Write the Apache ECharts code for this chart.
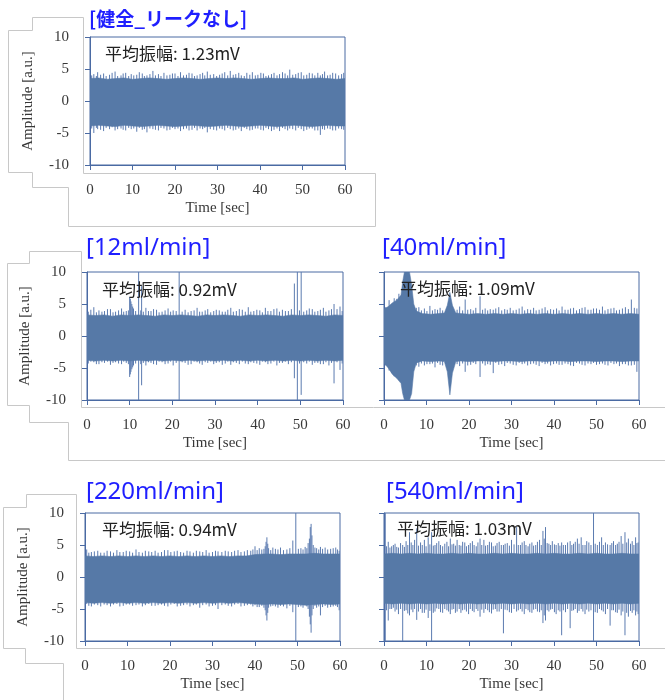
<!DOCTYPE html>
<html><head><meta charset="utf-8">
<script src="https://cdn.jsdelivr.net/npm/echarts@6.0.0/dist/echarts.min.js"></script>
<style>html,body{margin:0;padding:0;background:#fff}#c{width:665px;height:700px}</style>
</head><body><div id="c"></div><script>
// ---------- data ----------
const titles = ['[健全_リークなし]', '[12ml/min]', '[40ml/min]', '[220ml/min]', '[540ml/min]'];
const meanAmp = ['1.23mV', '0.92mV', '1.09mV', '0.94mV', '1.03mV'];
const xTicks = [0, 10, 20, 30, 40, 50, 60];
const yTicks = [-10, -5, 0, 5, 10];

// envelope of the dense signal: [time s, upper, lower]
const env1 = [[0,3.5,-3.9],[2,3.6,-3.8],[4,3.4,-3.9],[6,3.5,-4.0],[8,3.6,-3.8],[10,3.4,-3.9],[12,3.5,-4.0],[14,3.6,-3.9],[16,3.5,-3.8],[18,3.4,-3.9],[20,3.5,-4.0],[22,3.6,-3.9],[24,3.5,-3.8],[26,3.4,-3.9],[28,3.5,-4.0],[30,3.6,-3.9],[32,3.5,-3.8],[34,3.6,-3.9],[36,3.5,-4.0],[38,3.4,-3.9],[40,3.5,-3.8],[42,3.6,-3.9],[44,3.5,-4.0],[46,3.5,-3.9],[48,3.6,-3.8],[50,3.4,-3.9],[52,3.5,-4.0],[54,3.6,-3.9],[56,3.5,-3.8],[58,3.4,-3.9],[60,3.5,-3.9]];
const env2 = [[0,3.3,-3.8],[2,3.2,-3.9],[4,3.3,-3.8],[6,3.1,-3.9],[8,3.3,-3.8],[10,3.2,-3.9],[12,3.3,-3.8],[14,3.2,-3.9],[16,3.1,-3.8],[18,3.3,-3.9],[20,3.2,-3.8],[22,3.3,-3.9],[24,3.2,-3.8],[26,3.1,-3.9],[28,3.3,-3.8],[30,3.2,-3.9],[32,3.3,-3.8],[34,3.2,-3.9],[36,3.1,-3.8],[38,3.3,-3.9],[40,3.2,-3.8],[42,3.3,-3.9],[44,3.2,-3.8],[46,3.1,-3.9],[48,3.3,-3.8],[50,3.2,-3.9],[52,3.3,-3.8],[54,3.2,-3.9],[56,3.1,-3.8],[58,3.3,-3.9],[60,3.2,-3.8]];
const env3 = [[0,4.2,-4.2],[1,4.6,-5.0],[2,5.2,-6.0],[3,5.6,-6.6],[4,6.4,-7.4],[4.4,8.5,-9.0],[4.8,10,-10],[6.0,10,-10],[6.5,8.0,-9.0],[7.0,5.0,-5.6],[7.6,3.9,-4.2],[9,3.5,-3.9],[11,3.4,-4.0],[13,3.5,-3.9],[14.2,3.6,-4.0],[14.9,4.8,-5.6],[15.5,6.8,-9.2],[16.1,4.8,-5.8],[16.9,3.6,-4.0],[18,3.5,-3.9],[20,3.4,-4.0],[22,3.5,-3.9],[24,3.4,-3.9],[26,3.5,-4.0],[28,3.4,-3.9],[30,3.5,-3.9],[32,3.4,-4.0],[34,3.5,-3.9],[36,3.4,-3.9],[38,3.5,-4.0],[40,3.4,-3.9],[42,3.5,-3.9],[44,3.4,-4.0],[46,3.5,-3.9],[48,3.4,-3.9],[50,3.5,-4.0],[52,3.4,-3.9],[54,3.5,-3.9],[56,3.4,-4.0],[58,3.5,-3.9],[60,3.4,-3.9]];
const env4 = [[0,3.3,-4.0],[2,3.2,-4.1],[4,3.3,-4.0],[6,3.2,-4.1],[8,3.3,-4.0],[10,3.2,-4.1],[12,3.3,-4.0],[14,3.2,-4.1],[16,3.3,-4.0],[18,3.2,-4.1],[20,3.3,-4.0],[22,3.2,-4.1],[24,3.3,-4.0],[26,3.2,-4.1],[28,3.3,-4.0],[30,3.2,-4.1],[32,3.3,-4.0],[34,3.2,-4.1],[36,3.3,-4.0],[38,3.3,-4.1],[40,3.5,-4.2],[42,3.6,-4.3],[44,3.6,-4.2],[46,3.5,-4.3],[48,3.6,-4.2],[50,3.6,-4.3],[52,3.6,-4.4],[54,3.7,-4.3],[56,3.6,-4.2],[58,3.6,-4.3],[60,3.6,-4.2]];
const env5 = [[0,3.6,-4.1],[2,3.7,-4.2],[4,3.6,-4.1],[6,3.7,-4.2],[8,3.6,-4.1],[10,3.7,-4.2],[12,3.6,-4.1],[14,3.6,-4.2],[16,3.7,-4.1],[18,3.6,-4.2],[20,3.7,-4.1],[22,3.6,-4.2],[24,3.6,-4.1],[26,3.7,-4.2],[28,3.6,-4.1],[30,3.7,-4.2],[32,3.6,-4.1],[34,3.6,-4.2],[36,3.7,-4.1],[38,3.6,-4.2],[40,3.7,-4.1],[42,3.6,-4.2],[44,3.6,-4.1],[46,3.7,-4.2],[48,3.6,-4.1],[50,3.7,-4.2],[52,3.6,-4.1],[54,3.6,-4.2],[56,3.7,-4.1],[58,3.6,-4.2],[60,3.6,-4.1]];

// individual spikes: [time s, top, bottom]
const spk1 = [[0.4,4.0,-4.3],[0.9,4.2,-5.0],[1.5,3.9,-4.2],[1.8,4.5,-4.4],[2.5,4.1,-4.5],[3.2,4.3,-4.7],[3.8,3.9,-4.2],[4.6,4.1,-4.4],[5.2,4.4,-4.1],[5.9,4.6,-4.6],[6.5,3.9,-4.4],[7.3,4.0,-4.3],[7.8,4.3,-4.5],[8.4,4.4,-4.6],[9.1,3.9,-4.2],[9.7,4.2,-4.4],[10.3,4.0,-4.3],[11.0,4.1,-4.8],[11.6,4.5,-4.2],[12.3,4.3,-4.5],[12.8,3.9,-4.4],[13.4,4.0,-4.9],[14.1,4.2,-4.3],[14.8,4.7,-4.4],[15.4,4.0,-4.5],[16.1,4.2,-4.6],[16.7,3.9,-4.2],[17.4,4.4,-4.3],[18.1,4.0,-4.6],[18.8,4.1,-4.5],[19.4,4.3,-4.2],[20.0,4.3,-4.4],[20.7,3.9,-4.3],[21.3,4.5,-4.7],[22.0,4.0,-4.4],[22.7,4.1,-4.3],[23.3,4.4,-4.6],[24.0,4.3,-4.5],[24.6,3.9,-4.2],[25.2,4.0,-4.6],[25.9,4.2,-4.3],[26.5,4.4,-4.4],[27.0,4.0,-4.2],[27.6,4.6,-4.9],[28.3,4.1,-4.4],[29.1,4.2,-4.5],[29.8,3.9,-4.6],[30.5,4.1,-4.3],[31.1,4.3,-4.4],[31.7,4.5,-4.6],[32.4,4.0,-4.2],[33.0,4.7,-4.4],[33.7,4.1,-4.6],[34.3,4.2,-4.5],[35.0,4.4,-4.3],[35.6,4.0,-4.7],[36.3,3.9,-4.2],[36.9,4.4,-4.4],[37.6,4.1,-4.6],[38.2,4.5,-4.5],[38.9,4.0,-4.3],[39.5,4.1,-4.3],[40.2,4.4,-4.5],[40.8,4.3,-4.6],[41.4,3.9,-4.2],[42.0,4.0,-4.4],[42.7,4.2,-4.7],[43.3,4.4,-4.5],[44.0,4.0,-4.3],[44.6,4.2,-4.7],[45.3,4.5,-4.2],[45.9,4.3,-4.4],[46.5,4.0,-4.6],[47.0,4.9,-4.3],[47.7,4.1,-4.4],[48.4,4.2,-4.6],[49.0,4.4,-4.2],[49.7,4.5,-4.4],[50.3,4.0,-4.7],[51.0,4.1,-4.5],[51.6,4.4,-4.3],[52.3,4.3,-4.3],[52.9,4.0,-4.6],[53.6,4.4,-4.6],[54.2,4.0,-5.3],[54.7,4.2,-4.4],[55.2,4.6,-4.5],[55.9,4.0,-4.3],[56.5,4.1,-4.4],[57.1,4.4,-4.6],[57.8,4.3,-4.6],[58.5,4.0,-4.3],[59.2,4.2,-4.4],[59.7,4.4,-4.5]];
const spk2 = [[0.3,3.8,-4.3],[0.9,4.1,-4.0],[1.6,4.5,-4.1],[2.2,3.7,-4.4],[2.8,4.0,-4.4],[3.5,3.8,-4.1],[4.1,3.9,-4.2],[4.8,4.2,-4.0],[5.5,4.2,-4.5],[6.1,3.7,-4.2],[6.7,3.8,-4.1],[7.4,4.0,-4.3],[8.1,4.3,-4.4],[8.6,3.8,-4.0],[9.2,3.9,-4.2],[9.7,4.0,-4.4],[10.0,6.1,-6.4],[10.15,5.8,-6.0],[10.3,5.4,-5.6],[10.5,5.0,-5.2],[10.7,4.6,-4.9],[10.9,4.3,-4.6],[11.4,3.9,-4.3],[12.1,10,-10],[12.6,4.0,-4.4],[12.8,7.8,-7.7],[13.2,3.8,-4.2],[13.8,4.4,-4.6],[14.4,3.9,-4.1],[15.0,3.9,-4.2],[15.6,4.2,-4.4],[16.3,4.1,-4.5],[16.9,3.7,-4.0],[17.6,3.8,-4.1],[18.3,4.0,-4.4],[19.0,4.3,-4.3],[19.6,3.8,-4.0],[20.2,4.0,-4.6],[20.9,3.9,-4.2],[21.6,10,-10],[22.3,3.8,-4.1],[23.0,4.1,-4.2],[23.7,3.7,-4.5],[24.4,3.9,-4.4],[25.1,4.0,-4.0],[25.8,4.4,-4.1],[26.4,3.8,-4.3],[27.0,3.8,-4.5],[27.7,4.0,-4.1],[28.3,4.2,-4.2],[29.0,3.7,-4.0],[29.7,3.9,-4.4],[30.3,4.1,-4.2],[31.0,4.0,-4.1],[31.7,3.8,-4.5],[32.4,3.8,-4.3],[33.0,4.1,-4.0],[33.7,4.4,-4.5],[34.3,3.8,-4.1],[35.0,3.9,-4.2],[35.7,4.2,-4.4],[36.4,4.1,-4.0],[37.1,3.8,-4.3],[37.8,4.5,-4.4],[38.4,3.8,-4.1],[39.1,3.9,-4.2],[39.8,4.1,-4.3],[40.5,4.0,-4.5],[41.1,3.7,-4.0],[41.8,4.4,-4.1],[42.4,3.9,-4.4],[43.1,3.9,-4.3],[43.8,4.2,-4.0],[44.5,4.3,-4.6],[45.1,3.8,-4.2],[45.8,4.1,-4.2],[46.5,3.9,-4.0],[47.2,3.9,-4.4],[47.9,4.2,-4.1],[48.6,8.2,-6.6],[49.3,10,-10],[49.8,4.0,-4.3],[50.2,10,-9.2],[50.8,3.8,-4.1],[51.5,4.0,-4.3],[52.1,4.3,-4.0],[52.8,4.2,-4.5],[53.4,3.8,-4.2],[54.1,3.9,-4.2],[54.7,4.1,-4.4],[55.4,4.4,-4.4],[56.0,3.8,-4.1],[56.7,4.0,-4.6],[57.3,4.2,-4.2],[57.9,5.0,-7.4],[58.6,4.2,-4.1],[59.3,4.6,-5.3],[59.8,3.9,-4.3]];
const spk3 = [[0.4,4.5,-4.6],[1.2,5.6,-5.4],[1.8,5.0,-5.8],[2.4,5.9,-6.3],[3.0,5.8,-6.5],[3.5,6.6,-6.9],[7.6,4.4,-4.6],[8.2,4.5,-4.8],[8.8,4.0,-4.3],[9.5,4.3,-4.6],[10.1,3.9,-4.4],[10.8,4.7,-4.4],[11.4,4.0,-4.3],[12.0,4.2,-4.9],[12.6,4.1,-4.2],[13.2,4.4,-4.5],[13.8,4.0,-4.6],[17.2,4.1,-4.4],[17.8,4.6,-4.7],[18.5,4.0,-4.3],[19.1,5.7,-5.6],[19.7,4.1,-4.6],[20.4,4.2,-4.5],[21.0,4.0,-4.2],[21.6,4.4,-4.4],[22.6,6.2,-6.4],[23.2,4.1,-4.3],[23.8,4.3,-4.6],[24.4,4.0,-4.4],[25.0,4.2,-4.5],[25.7,4.1,-5.8],[26.3,4.3,-4.2],[27.0,4.5,-4.5],[27.7,4.0,-4.4],[28.4,4.2,-4.7],[29.0,4.1,-4.2],[29.7,4.4,-4.3],[30.4,4.0,-4.5],[31.1,4.1,-4.6],[31.8,4.3,-4.2],[32.5,4.6,-4.4],[33.1,4.0,-4.3],[33.8,4.2,-4.6],[34.5,4.1,-4.4],[35.2,4.4,-4.3],[35.8,4.0,-4.5],[36.5,4.1,-4.7],[37.2,4.3,-4.2],[37.9,4.5,-4.4],[38.5,4.0,-4.3],[39.2,4.2,-4.6],[39.9,4.1,-4.4],[40.6,4.3,-4.3],[41.2,4.0,-4.5],[41.9,4.6,-4.5],[42.6,4.1,-4.3],[43.3,4.1,-4.4],[43.9,4.3,-4.6],[44.6,4.4,-4.7],[45.3,4.0,-4.2],[46.0,4.2,-4.3],[46.6,4.4,-4.5],[47.3,4.5,-4.6],[48.0,4.1,-4.3],[48.7,4.1,-4.4],[49.3,4.3,-4.2],[50.0,4.3,-4.5],[50.7,4.1,-4.4],[51.4,4.6,-4.3],[52.0,4.0,-4.5],[52.7,4.2,-4.6],[53.4,4.3,-4.2],[54.1,4.4,-4.4],[54.7,4.0,-4.3],[55.4,4.1,-4.7],[56.1,4.3,-4.4],[56.8,4.5,-4.4],[57.5,4.2,-4.6],[58.2,5.7,-4.6],[58.9,4.4,-4.5],[59.5,4.3,-5.6]];
const spk4 = [[0.4,4.3,-4.2],[0.9,3.8,-4.5],[1.5,3.9,-4.6],[2.2,4.0,-4.3],[3.0,4.1,-4.4],[3.7,3.8,-4.6],[4.5,3.8,-4.3],[5.2,4.1,-4.4],[6.0,4.0,-4.6],[6.7,3.8,-4.3],[7.5,4.2,-4.2],[8.2,3.9,-4.6],[9.0,3.9,-4.5],[9.7,4.1,-4.3],[10.5,4.0,-4.3],[11.2,3.8,-4.5],[12.0,4.3,-4.4],[12.7,3.9,-4.3],[13.5,3.8,-4.6],[14.2,4.1,-4.4],[15.0,4.0,-4.2],[15.7,3.9,-4.5],[16.5,4.1,-4.5],[17.2,3.8,-4.4],[18.0,3.9,-4.3],[18.7,4.2,-4.5],[19.5,4.2,-4.6],[20.2,3.9,-4.3],[21.0,4.0,-4.2],[21.7,4.1,-4.6],[22.5,3.9,-4.5],[23.2,3.8,-4.4],[24.0,4.1,-4.3],[24.7,4.0,-4.6],[25.5,3.8,-4.4],[26.2,4.1,-4.3],[27.0,4.0,-4.8],[27.7,3.9,-4.4],[28.5,4.2,-4.3],[29.2,3.8,-4.6],[30.0,3.9,-4.5],[30.7,4.1,-4.4],[31.3,4.0,-5.0],[32.2,3.9,-4.4],[33.0,4.1,-4.3],[33.7,4.0,-4.5],[34.5,3.9,-4.6],[35.2,4.1,-4.3],[36.0,4.2,-4.2],[36.7,3.9,-4.6],[37.5,4.0,-4.5],[38.2,4.2,-4.4],[39.0,4.1,-4.3],[39.5,4.3,-4.6],[40.0,4.8,-4.4],[40.5,4.2,-4.7],[41.0,4.5,-4.7],[41.6,4.3,-4.5],[42.1,4.4,-4.8],[42.4,4.8,-5.2],[42.6,5.5,-6.0],[42.8,6.2,-6.8],[43.0,5.2,-5.6],[43.2,4.5,-4.8],[43.7,4.2,-4.6],[44.2,4.6,-4.5],[44.8,4.4,-4.6],[45.4,4.3,-4.8],[46.0,4.6,-4.5],[46.7,4.2,-4.6],[47.5,4.3,-4.9],[48.2,4.5,-4.5],[48.9,5.7,-5.5],[49.6,10,-10],[50.2,4.4,-4.7],[50.8,4.5,-4.6],[51.3,4.3,-4.8],[51.8,4.7,-4.4],[52.2,4.5,-4.6],[52.5,5.3,-5.0],[52.8,6.0,-6.2],[53.0,7.8,-7.4],[53.2,8.3,-8.7],[53.4,6.5,-6.0],[53.7,5.0,-5.0],[54.1,4.6,-4.5],[54.5,4.5,-4.8],[55.0,4.3,-4.6],[55.4,4.7,-6.0],[55.9,4.4,-4.7],[56.5,4.6,-4.5],[57.1,4.3,-4.8],[57.8,4.4,-4.7],[58.4,4.5,-4.6],[59.0,4.6,-4.5],[59.4,4.3,-4.7],[59.8,4.1,-5.2]];
const spk5 = [[0.3,10,-10],[0.6,4.8,-5.2],[1.0,5.5,-6.8],[1.4,4.6,-5.0],[1.8,4.8,-5.0],[2.2,5.0,-4.8],[2.6,5.2,-5.4],[3.0,4.7,-5.1],[3.4,4.6,-5.8],[3.9,5.3,-5.0],[4.4,5.0,-10],[4.8,4.7,-5.3],[5.2,5.6,-5.2],[5.6,5.0,-5.7],[6.0,7.0,-6.0],[6.4,5.4,-5.1],[6.8,5.0,-5.5],[7.2,5.8,-5.0],[7.7,7.6,-6.7],[8.1,4.9,-5.4],[8.6,5.4,-5.0],[9.0,5.0,-5.6],[9.5,5.8,-5.6],[9.9,4.8,-5.1],[10.4,6.2,-6.4],[10.8,5.1,-5.3],[11.2,7.0,-10],[11.6,4.9,-5.6],[12.0,5.0,-5.4],[12.4,5.3,-4.9],[12.9,5.6,-5.0],[13.3,5.0,-5.5],[13.8,4.8,-5.6],[14.3,5.2,-5.0],[14.8,5.5,-5.2],[15.2,4.8,-5.4],[15.6,6.0,-5.8],[16.0,5.1,-5.1],[16.4,5.2,-5.0],[16.8,4.9,-5.6],[17.2,5.8,-5.4],[17.7,5.0,-5.0],[18.1,4.9,-5.6],[18.5,5.5,-5.2],[19.0,5.4,-5.1],[19.4,4.8,-5.4],[19.9,5.0,-5.8],[20.3,5.3,-5.0],[20.8,5.6,-5.3],[21.2,5.0,-5.5],[21.7,4.8,-5.0],[22.1,5.4,-5.3],[22.6,6.0,-6.2],[23.0,5.0,-5.1],[23.5,5.8,-5.6],[23.9,4.9,-5.0],[24.4,5.0,-5.2],[24.8,5.5,-5.5],[25.3,5.4,-5.7],[25.7,4.8,-5.1],[26.2,4.9,-5.0],[26.6,5.3,-5.4],[27.1,5.5,-5.4],[27.6,5.0,-5.0],[28.1,5.0,-8.8],[28.5,5.2,-5.1],[29.0,5.3,-5.2],[29.5,4.9,-5.5],[30.0,5.8,-5.6],[30.6,5.1,-5.0],[31.2,7.8,-5.4],[31.6,5.0,-5.2],[32.1,5.0,-5.0],[32.5,5.4,-5.4],[33.0,5.6,-5.8],[33.4,5.0,-5.0],[33.9,4.8,-5.2],[34.3,5.2,-5.5],[34.8,5.4,-5.6],[35.2,4.9,-5.1],[35.7,5.0,-5.0],[36.1,5.5,-5.4],[36.6,5.8,-5.5],[37.0,5.0,-5.2],[37.4,7.2,-7.2],[37.7,6.0,-6.0],[38.0,7.8,-6.8],[38.4,5.3,-5.2],[38.8,5.2,-5.4],[39.2,5.0,-5.1],[39.6,5.6,-5.0],[40.1,5.1,-5.5],[40.5,5.0,-5.8],[41.0,5.3,-5.2],[41.4,4.9,-5.4],[41.8,5.4,-9.1],[42.2,5.0,-5.2],[42.7,5.0,-5.5],[43.2,5.4,-5.0],[43.8,5.6,-8.0],[44.2,5.0,-5.3],[44.6,5.2,-5.2],[45.0,5.5,-5.0],[45.5,6.0,-5.6],[45.9,5.2,-5.3],[46.4,6.2,-5.0],[46.8,5.0,-5.4],[47.3,5.0,-5.8],[47.7,5.6,-5.1],[48.2,5.4,-5.4],[48.7,5.0,-5.2],[49.3,10,-10],[49.7,5.2,-5.5],[50.2,5.0,-5.6],[50.7,5.5,-5.0],[51.2,6.2,-5.2],[51.6,5.0,-5.4],[52.1,5.4,-5.8],[52.6,5.1,-5.0],[53.2,5.0,-7.6],[53.6,5.3,-5.2],[54.0,5.6,-5.2],[54.5,5.0,-5.5],[54.9,5.2,-5.6],[55.3,5.5,-5.1],[55.8,6.4,-6.0],[56.2,5.2,-5.4],[56.7,7.0,-9.1],[57.1,5.4,-5.6],[57.5,6.0,-6.2],[58.0,5.2,-5.3],[58.4,5.6,-5.6],[58.8,5.0,-5.2],[59.2,6.2,-6.0],[59.5,5.3,-5.4],[59.8,5.4,-5.8]];

const envs = [env1, env2, env3, env4, env5];
const spks = [spk1, spk2, spk3, spk4, spk5];

// ---------- layout / style ----------
const layout = [
  {left: 90,  top: 37,  width: 255, height: 128, yLabels: true,  tx: 89,  ty: 19,  ax: 105, ay: 54},
  {left: 87,  top: 272, width: 256, height: 128, yLabels: true,  tx: 86,  ty: 248, ax: 102, ay: 290},
  {left: 384, top: 272, width: 255, height: 128, yLabels: false, tx: 382, ty: 248, ax: 400, ay: 289},
  {left: 85,  top: 513, width: 255, height: 128, yLabels: true,  tx: 86,  ty: 492, ax: 102, ay: 530},
  {left: 384, top: 513, width: 255, height: 128, yLabels: false, tx: 386, ty: 492, ax: 397, ay: 529}
];
const BLUE_AX = '#4a6aa3';
const BAND = '#5679a7';
const NEEDLE = '#5b7bb0';
const LABEL = '#383838';
const SERIF = 'Liberation Serif';
const GRAY = '#c8c8c8';

const chart = echarts.init(document.getElementById('c'), null, {renderer: 'canvas'});

const grids = [], xAxes = [], yAxes = [], series = [];
layout.forEach((L, i) => {
  grids.push({left: L.left, top: L.top, width: L.width, height: L.height, show: true,
    borderColor: BLUE_AX, borderWidth: 1, backgroundColor: 'transparent'});
  xAxes.push({type: 'value', gridIndex: i, min: xTicks[0], max: xTicks[xTicks.length - 1], interval: 10,
    axisLine: {show: true, onZero: false, lineStyle: {color: BLUE_AX, width: 1}},
    axisTick: {show: true, inside: false, length: 5, lineStyle: {color: BLUE_AX}},
    splitLine: {show: false},
    axisLabel: {show: true, margin: 18, color: LABEL, fontFamily: SERIF, fontSize: 15},
    name: 'Time [sec]', nameLocation: 'middle', nameGap: 36,
    nameTextStyle: {color: LABEL, fontFamily: SERIF, fontSize: 15}});
  yAxes.push({type: 'value', gridIndex: i, min: yTicks[0], max: yTicks[yTicks.length - 1], interval: 5,
    axisLine: {show: true, onZero: false, lineStyle: {color: BLUE_AX, width: 1}},
    axisTick: {show: true, inside: false, length: 5, lineStyle: {color: BLUE_AX}},
    splitLine: {show: false},
    axisLabel: {show: L.yLabels, margin: 21, color: LABEL, fontFamily: SERIF, fontSize: 15},
    name: L.yLabels ? 'Amplitude [a.u.]' : '', nameLocation: 'middle', nameGap: 54,
    nameTextStyle: {color: LABEL, fontFamily: SERIF, fontSize: 15}});
  const env = envs[i];
  series.push({type: 'custom', xAxisIndex: i, yAxisIndex: i, data: [[0, 0]], clip: true, silent: true, z: 3,
    renderItem: (p, api) => {
      const up = env.map(r => api.coord([r[0], r[1]]));
      const dn = env.slice().reverse().map(r => api.coord([r[0], r[2]]));
      return {type: 'polygon', shape: {points: up.concat(dn)},
        style: {fill: BAND, stroke: 'rgba(86,121,167,0.55)', lineWidth: 1}};
    }});
  series.push({type: 'custom', xAxisIndex: i, yAxisIndex: i, data: spks[i], encode: {x: 0, y: [1, 2]},
    clip: true, silent: true, z: 2,
    renderItem: (p, api) => {
      const a = api.coord([api.value(0), api.value(1)]);
      const b = api.coord([api.value(0), api.value(2)]);
      return {type: 'line', shape: {x1: a[0], y1: a[1], x2: b[0], y2: b[1]},
        style: {stroke: NEEDLE, lineWidth: 1}};
    }});
});

const outline = pts => ({type: 'polyline', z: 0, silent: true,
  shape: {points: pts.map(p => [p[0] + 0.5, p[1] + 0.5])},
  style: {stroke: GRAY, fill: null, lineWidth: 1}});

const graphics = [
  outline([[32,17],[83,17],[83,173],[375,173],[375,226],[68,226],[68,187],[32,187],[32,172],[8,172],[8,30],[32,30],[32,17]]),
  outline([[29,251],[81,251],[81,407],[665,407]]),
  outline([[29,251],[29,263],[7,263],[7,405],[29,405],[29,422],[68,422],[68,460],[665,460]]),
  outline([[26,494],[76,494],[76,648],[665,648]]),
  outline([[26,494],[26,507],[3,507],[3,648],[25,648],[25,663],[63,663],[63,700]])
];
layout.forEach((L, i) => {
  graphics.push({type: 'text', z: 100, silent: true, x: L.tx, y: L.ty,
    style: {text: titles[i], fill: '#1f1fff',
      font: i === 0 ? 'bold 19px "Noto Sans CJK JP"' : '24px "Noto Sans", "Noto Sans CJK JP"',
      textVerticalAlign: 'middle', textAlign: 'left'}});
  graphics.push({type: 'text', z: 100, silent: true, x: L.ax, y: L.ay,
    style: {text: '平均振幅: ' + meanAmp[i], fill: '#222', font: '17px "Noto Sans CJK JP"',
      textVerticalAlign: 'middle', textAlign: 'left'}});
});

chart.setOption({
  animation: false,
  backgroundColor: '#fff',
  grid: grids, xAxis: xAxes, yAxis: yAxes, series: series,
  graphic: graphics
});
</script></body></html>
